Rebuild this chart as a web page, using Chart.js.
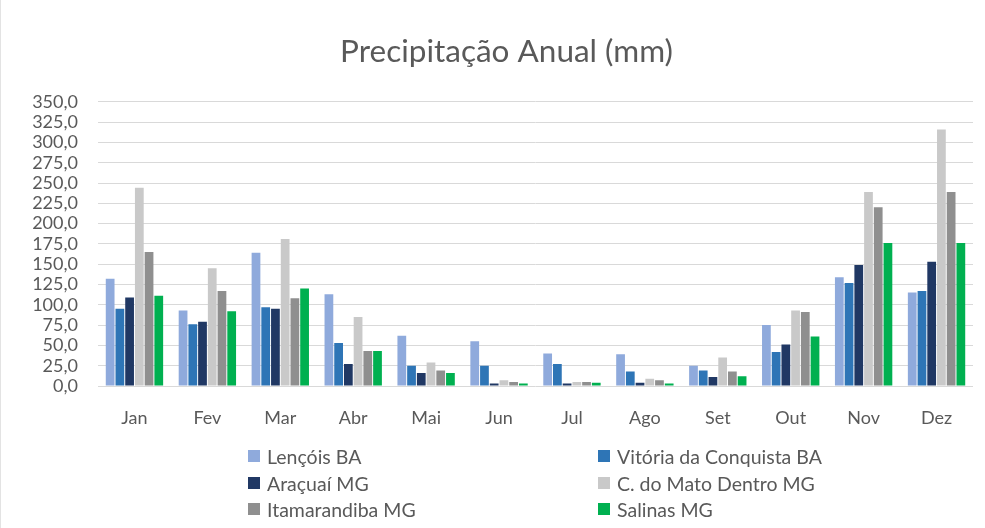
<!DOCTYPE html>
<html>
<head>
<meta charset="utf-8">
<script src="https://cdn.jsdelivr.net/npm/chart.js@4"></script>
<style>
  html, body { margin: 0; padding: 0; background: #fff; }
  #wrap { position: relative; width: 985px; height: 528px; overflow: hidden; border-left: 1px solid #e3e3e3; box-sizing: border-box; }
  #chart { position: absolute; left: 0; top: 0; }
  #legend { position: absolute; left: 0; top: 0; width: 985px; height: 528px; pointer-events: none; }
  .lg-item { position: absolute; display: flex; align-items: center; font: 19.5px Lato, sans-serif; color: #595959; white-space: nowrap; }
  .lg-box { width: 12px; height: 12px; margin-right: 7px; }
</style>
</head>
<body>
<div id="wrap">
  <canvas id="chart" width="985" height="528"></canvas>
  <div id="legend"></div>
</div>
<script>
// Precipitação média mensal (mm) por estação
const months = ['Jan', 'Fev', 'Mar', 'Abr', 'Mai', 'Jun', 'Jul', 'Ago', 'Set', 'Out', 'Nov', 'Dez'];

const lencois    = [132, 93, 164, 113, 62, 55, 40, 39, 25, 75, 134, 115];
const vitoria    = [95, 76, 97, 53, 25, 25, 27, 18, 19, 42, 127, 117];
const aracuai    = [109, 79, 95, 27, 16, 3, 3, 4, 11, 51, 149, 153];
const matoDentro = [244, 145, 181, 85, 29, 7, 5, 9, 35, 93, 239, 316];
const itamarand  = [165, 117, 108, 43, 19, 5, 5, 7, 18, 91, 220, 239];
const salinas    = [111, 92, 120, 43, 16, 3, 4, 3, 12, 61, 176, 176];

const yTicks = [0, 25, 50, 75, 100, 125, 150, 175, 200, 225, 250, 275, 300, 325, 350];

const TXT = '#595959';
const FONT = 'Lato, sans-serif';

const series = [
  {label: 'Lençóis BA',              data: lencois,    color: '#8faadc'},
  {label: 'Vitória da Conquista BA', data: vitoria,    color: '#2e75b6'},
  {label: 'Araçuaí MG',              data: aracuai,    color: '#203864'},
  {label: 'C. do Mato Dentro MG',    data: matoDentro, color: '#c9c9c9'},
  {label: 'Itamarandiba MG',         data: itamarand,  color: '#8f8f8f'},
  {label: 'Salinas MG',              data: salinas,    color: '#00b050'},
];

// nudge the title box so it is centred a little right of the canvas middle
const titleShift = {
  id: 'titleShift',
  afterLayout(c) { if (c.titleBlock) c.titleBlock.left = 39; },
};

const chart = new Chart(document.getElementById('chart').getContext('2d'), {
  type: 'bar',
  data: {
    labels: months,
    datasets: series.map(s => ({
      label: s.label, data: s.data,
      backgroundColor: s.color, borderWidth: 0,
      categoryPercentage: 0.8, barPercentage: 0.9,
    })),
  },
  options: {
    responsive: false, animation: false,
    layout: {padding: {top: 33, right: 13, left: 0, bottom: 0}},
    plugins: {
      legend: {display: false},
      tooltip: {enabled: false},
      title: {
        display: true, text: 'Precipitação Anual (mm)', color: TXT,
        font: {family: FONT, size: 31.5, weight: 'normal'},
        padding: {top: 0, bottom: 31},
      },
    },
    scales: {
      x: {
        grid: {display: false, drawTicks: false},
        border: {display: false},
        ticks: {color: TXT, font: {family: FONT, size: 18}, padding: 21},
        afterFit: s => { s.height = 142; },
      },
      y: {
        min: 0, max: 350,
        afterBuildTicks: s => { s.ticks = yTicks.map(v => ({value: v})); },
        grid: {color: '#d9d9d9', lineWidth: 1, drawTicks: false},
        border: {display: false},
        ticks: {
          color: TXT, font: {family: FONT, size: 18}, padding: 20, autoSkip: false,
          callback: v => v.toFixed(1).replace('.', ','),
        },
        afterFit: s => { s.width = 97; },
      },
    },
  },
  plugins: [titleShift],
});

// Legend in two columns, built from the chart's datasets
const legendPos = [[247, 456], [597, 456], [247, 483], [597, 483], [247, 509], [597, 509]];
document.getElementById('legend').innerHTML = chart.data.datasets.map((d, i) => `
  <div class="lg-item" style="left:${legendPos[i][0]}px;top:${legendPos[i][1] - 12}px;height:24px">
    <div class="lg-box" style="background:${d.backgroundColor}"></div>${d.label}
  </div>`).join('');
</script>
</body>
</html>
